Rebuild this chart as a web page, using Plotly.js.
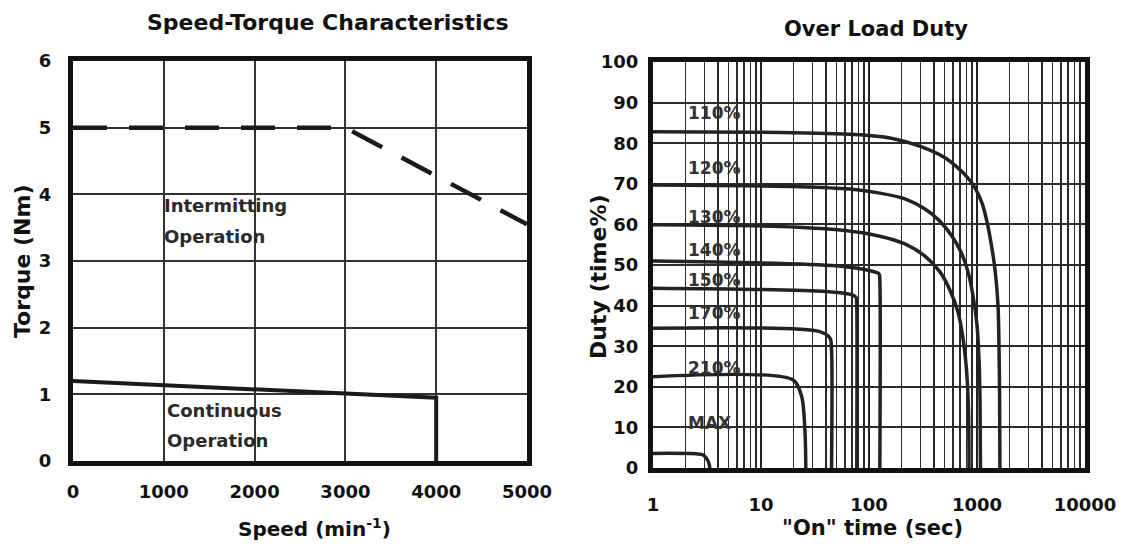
<!DOCTYPE html>
<html>
<head>
<meta charset="utf-8">
<script src="https://cdn.plot.ly/plotly-3.0.1.min.js"></script>
<style>html,body{margin:0;padding:0;background:#fff}#chart{width:1125px;height:548px}</style>
</head>
<body>
<div id="chart"></div>
<script>
// ---- Speed-Torque data ----
const contSpeed = [0, 4000, 4000];
const contTorque = [1.2, 0.95, 0];
const intSpeed = [0, 3000, 5000];
const intTorque = [5, 5, 3.55];
const speedTicks = [0, 1000, 2000, 3000, 4000, 5000];
const torqueTicks = [0, 1, 2, 3, 4, 5, 6];

// ---- Over Load Duty data (time sec, duty %) ----
const t110 = [1, 20, 82.5, 156, 250, 367, 506, 653, 808, 958, 1112, 1238, 1349, 1469, 1565, 1600, 1620, 1630];
const d110 = [82.8, 82.6, 82.1, 81.3, 79.9, 78.3, 76.4, 74.1, 71.7, 69.0, 65.3, 60.6, 55.4, 48.8, 40.1, 29.1, 16.7, 0];
const t120 = [1, 23, 66.7, 126, 215, 330, 454, 587, 711, 826, 918, 1000, 1044, 1067, 1077];
const d120 = [69.7, 69.3, 68.7, 67.7, 66.3, 63.8, 60.8, 57.1, 53.2, 48.3, 42.4, 35.2, 26.6, 16.7, 0];
const t130 = [1, 15, 53.9, 126, 215, 330, 454, 562, 667, 741, 800, 834, 843];
const d130 = [59.9, 59.5, 58.6, 57.1, 55.2, 52.2, 48.3, 43.8, 38.4, 32.0, 24.1, 14.3, 0];
const t140 = [1, 50, 109, 124, 126, 126];
const d140 = [51, 49.8, 48.4, 47.8, 46, 0];
const t150 = [1, 40, 71, 76, 77, 77];
const d150 = [44.3, 43.5, 42.6, 42, 40, 0];
const t170 = [1, 35, 43.6, 45, 45];
const d170 = [34.4, 33.6, 32, 29, 0];
const t210 = [1, 19.8, 23.8, 25.5, 26];
const d210 = [22.5, 21.7, 17.6, 9.4, 0];
const tMax = [1, 2.5, 2.92, 3.25, 3.37];
const dMax = [3.6, 3.5, 3.2, 1.6, 0];

const curveLabels = ['110%', '120%', '130%', '140%', '150%', '170%', '210%', 'MAX'];
const curveLabelY = [87.4, 73.9, 61.9, 53.7, 46.3, 38.2, 24.6, 11];
const timeTicks = [1, 10, 100, 1000, 10000];
const timeTickText = ['1', '10', '100', '1000', '10000'];
const dutyTicks = [0, 10, 20, 30, 40, 50, 60, 70, 80, 90, 100];

// minor log grid positions (2..9 in each decade)
const minorVals = [];
for (let p = 0; p < 4; p++) for (let k = 2; k <= 9; k++) minorVals.push(k * Math.pow(10, p));

const FONT = 'DejaVu Sans, Liberation Sans, Arial, sans-serif';
const INK = '#111';
const lineStyle = {color: '#222', width: 3.5, shape: 'spline', smoothing: 0.8};

const traces = [
  {x: contSpeed, y: contTorque, xaxis: 'x', yaxis: 'y', mode: 'lines', line: {color: '#1a1a1a', width: 4}},
  {x: intSpeed, y: intTorque, xaxis: 'x', yaxis: 'y', mode: 'lines', line: {color: '#1a1a1a', width: 4.5, dash: '34px,22px'}},
];
[[t110,d110],[t120,d120],[t130,d130],[t140,d140],[t150,d150],[t170,d170],[t210,d210],[tMax,dMax]].forEach(c => {
  traces.push({x: c[0], y: c[1], xaxis: 'x2', yaxis: 'y2', mode: 'lines', line: lineStyle});
});

const tickFont = {family: FONT, size: 18, color: INK, weight: 'bold'};
const annotations = [
  {text: 'Speed-Torque Characteristics', x: 328, y: 22, size: 22},
  {text: 'Over Load Duty', x: 876, y: 29, size: 21},
  {text: 'Speed (min<sup>-1</sup>)', x: 314, y: 528, size: 20},
  {text: '"On" time (sec)', x: 872, y: 528, size: 21},
].map(a => ({text: a.text, xref: 'paper', yref: 'paper', x: a.x / 1125, y: 1 - a.y / 548,
  xanchor: 'center', yanchor: 'middle', showarrow: false,
  font: {family: FONT, size: a.size, color: INK, weight: 'bold'}}));
annotations.push({text: 'Torque (Nm)', xref: 'paper', yref: 'paper', x: 22 / 1125, y: 1 - 262 / 548,
  textangle: -90, showarrow: false, xanchor: 'center', yanchor: 'middle',
  font: {family: FONT, size: 22, color: INK, weight: 'bold'}});
annotations.push({text: 'Duty (time%)', xref: 'paper', yref: 'paper', x: 598 / 1125, y: 1 - 277 / 548,
  textangle: -90, showarrow: false, xanchor: 'center', yanchor: 'middle',
  font: {family: FONT, size: 22, color: INK, weight: 'bold'}});
[['Intermitting', 980, 3.84], ['Operation', 980, 3.375], ['Continuous', 1013, 0.765], ['Operation', 1013, 0.315]].forEach(a => {
  annotations.push({text: a[0], xref: 'x', yref: 'y', x: a[1], y: a[2],
    xanchor: 'left', yanchor: 'middle', showarrow: false,
    font: {family: FONT, size: 18, color: '#2a2a2a', weight: 'bold'}});
});
curveLabels.forEach((t, i) => annotations.push({text: t, xref: 'x2', yref: 'y2', x: Math.log10(2.0), y: curveLabelY[i],
  xanchor: 'left', yanchor: 'middle', showarrow: false,
  font: {family: FONT, size: 17, color: '#333', weight: 'bold'}}));

const layout = {
  width: 1125, height: 548,
  margin: {l: 0, r: 0, t: 0, b: 0},
  paper_bgcolor: '#fff', plot_bgcolor: '#fff',
  showlegend: false,
  font: {family: FONT, color: INK},
  xaxis: {domain: [73 / 1125, 527 / 1125], anchor: 'y', range: [0, 5000], tickvals: speedTicks,
    showgrid: true, gridcolor: '#333', gridwidth: 2, zeroline: false,
    showline: true, linecolor: '#111', linewidth: 5, mirror: true,
    ticks: 'outside', ticklen: 10, tickcolor: 'rgba(0,0,0,0)', tickfont: tickFont},
  yaxis: {domain: [1 - 461 / 548, 1 - 61 / 548], anchor: 'x', range: [0, 6], tickvals: torqueTicks,
    showgrid: true, gridcolor: '#333', gridwidth: 2, zeroline: false,
    showline: true, linecolor: '#111', linewidth: 5, mirror: true,
    ticks: 'outside', ticklen: 13, tickcolor: 'rgba(0,0,0,0)', tickfont: tickFont},
  xaxis2: {domain: [653 / 1125, 1085 / 1125], anchor: 'y2', type: 'log', range: [0, 4],
    tickvals: timeTicks, ticktext: timeTickText,
    showgrid: true, gridcolor: '#222', gridwidth: 2.5, zeroline: false,
    minor: {tickvals: minorVals, showgrid: true, gridcolor: '#2a2a2a', gridwidth: 1.8, ticks: ''},
    showline: true, linecolor: '#111', linewidth: 5, mirror: true,
    ticks: 'outside', ticklen: 16, tickcolor: 'rgba(0,0,0,0)', tickfont: tickFont},
  yaxis2: {domain: [1 - 468 / 548, 1 - 62 / 548], anchor: 'x2', range: [0, 100], tickvals: dutyTicks,
    showgrid: true, gridcolor: '#2a2a2a', gridwidth: 2, zeroline: false,
    showline: true, linecolor: '#111', linewidth: 5, mirror: true,
    ticks: 'outside', ticklen: 6, tickcolor: 'rgba(0,0,0,0)', tickfont: tickFont},
  annotations: annotations
};

Plotly.newPlot('chart', traces, layout, {staticPlot: true, displayModeBar: false});
</script>
</body>
</html>
